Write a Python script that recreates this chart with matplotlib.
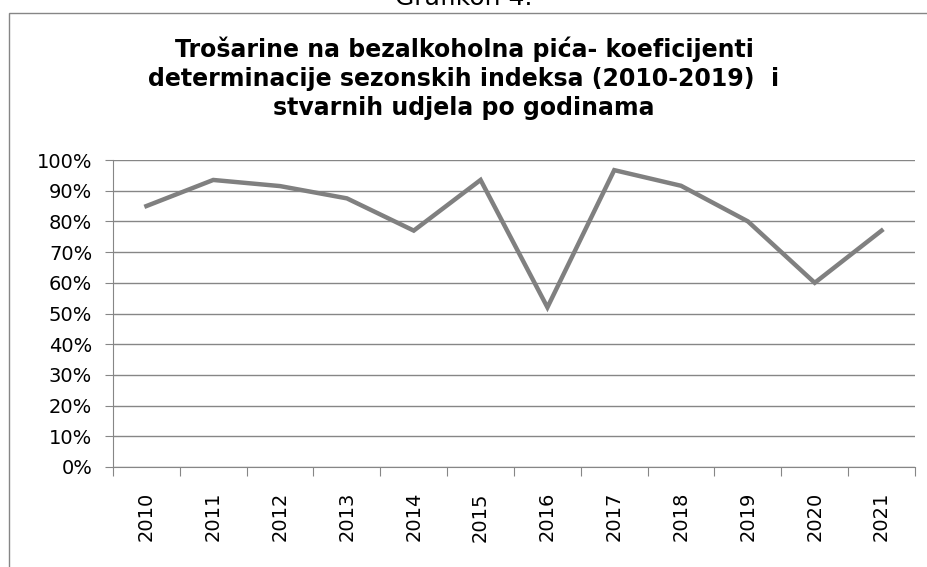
import matplotlib.pyplot as plt
from matplotlib.patches import Rectangle

years = ['2010', '2011', '2012', '2013', '2014', '2015',
         '2016', '2017', '2018', '2019', '2020', '2021']
values = [0.85, 0.935, 0.915, 0.875, 0.77, 0.935,
          0.52, 0.967, 0.916, 0.80, 0.60, 0.77]
title = 'Trošarine na bezalkoholna pića- koeficijenti\ndeterminacije sezonskih indeksa (2010-2019)  i\nstvarnih udjela po godinama'

fig = plt.figure(figsize=(9.28, 5.67), dpi=100)

# outer chart border (right and bottom edges fall outside the picture)
fig.patches.append(Rectangle((9 / 928, -0.01), 1.0, 1 - 13 / 567 + 0.01,
                             transform=fig.transFigure, fill=False,
                             edgecolor='#868686', linewidth=1.0))
fig.text(0.5, 1 - 5 / 567, 'Grafikon 4.', ha='center', va='baseline', fontsize=18)

ax = fig.add_axes([113 / 928, 1 - 467 / 567, 802 / 928, 307 / 567])
x = [i + 0.5 for i in range(len(years))]
ax.plot(x, values, color='#808080', linewidth=3.2, solid_joinstyle='miter')

ax.set_xlim(0, len(years))
ax.set_ylim(0, 1)
ax.set_yticks([i / 10 for i in range(11)])
ax.set_yticklabels([f'{i * 10}%' for i in range(11)], fontsize=14)
ax.yaxis.grid(True, color='#868686', linewidth=1.0)
ax.set_axisbelow(True)

ax.set_xticks(range(len(years) + 1))
ax.set_xticklabels([])
ax.set_xticks(x, minor=True)
ax.set_xticklabels(years, minor=True, rotation=90, fontsize=14)
ax.tick_params(axis='x', which='major', length=6.5, color='#868686', direction='out')
ax.tick_params(axis='x', which='minor', length=0, pad=18)
ax.tick_params(axis='y', length=6, color='#868686', pad=9)

for side in ['top', 'right']:
    ax.spines[side].set_visible(False)
for side in ['left', 'bottom']:
    ax.spines[side].set_color('#868686')

fig.text(0.5, 1 - 37 / 567, title, ha='center', va='top', fontsize=17,
         fontweight='bold', linespacing=1.26)

fig.savefig('out.png', dpi=100)
